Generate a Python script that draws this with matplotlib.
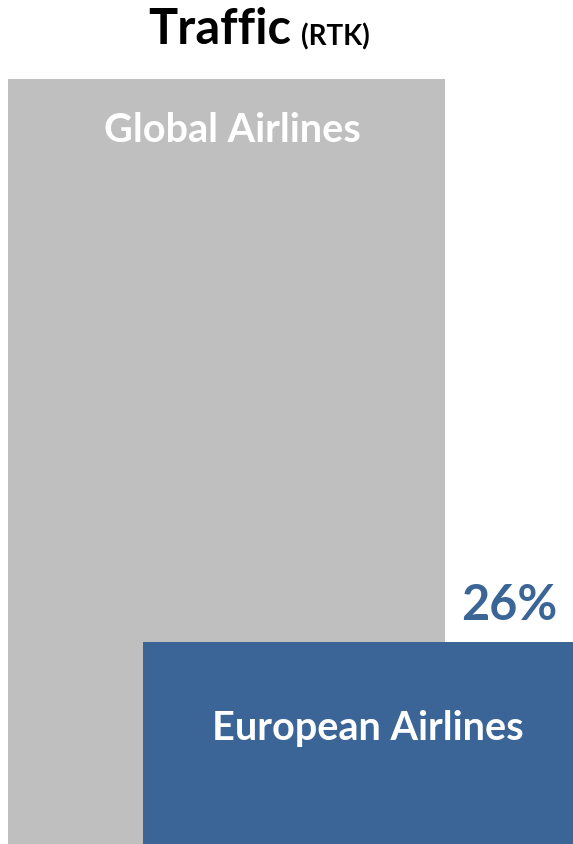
import matplotlib.pyplot as plt
from matplotlib.patches import Rectangle

labels = ['Global Airlines', 'European Airlines']
shares = [100, 26]
colors = ['#bfbfbf', '#3a6596']

W, H = 573, 844
fig = plt.figure(figsize=(W / 100, H / 100), dpi=100)
ax = fig.add_axes([0, 0, 1, 1])
ax.set_xlim(0, W)
ax.set_ylim(0, H)
ax.axis('off')

font = 'Lato'

# global box; european box area is its share of the global area
gx, gw, gh = 8, 437, 765
ex, ew = 143, 430
eh = gw * gh * shares[1] / shares[0] / ew

ax.add_patch(Rectangle((gx, 0), gw, gh, color=colors[0], lw=0))
ax.add_patch(Rectangle((ex, 0), ew, eh, color=colors[1], lw=0))

ax.text(gx + gw / 2 + 6, gh - 52, labels[0], color='white', fontsize=28.5,
        fontweight='bold', family=font, ha='center', va='center')
ax.text(ex + ew / 2 + 10, eh / 2 + 14, labels[1], color='white', fontsize=28.5,
        fontweight='bold', family=font, ha='center', va='center')
ax.text(ex + ew - 16, eh + 36, f'{shares[1]}%', color=colors[1], fontsize=35,
        fontweight='bold', family=font, ha='right', va='center')

t = ax.text(148, H - 30, 'Traffic', color='black', fontsize=35,
            fontweight='bold', family=font, ha='left', va='center')
fig.canvas.draw()
bb = t.get_window_extent()
ax.text(bb.x1 + 10, H - 37, '(RTK)', color='black', fontsize=20,
        fontweight='bold', family=font, ha='left', va='center')

fig.savefig('out.png', dpi=100)
